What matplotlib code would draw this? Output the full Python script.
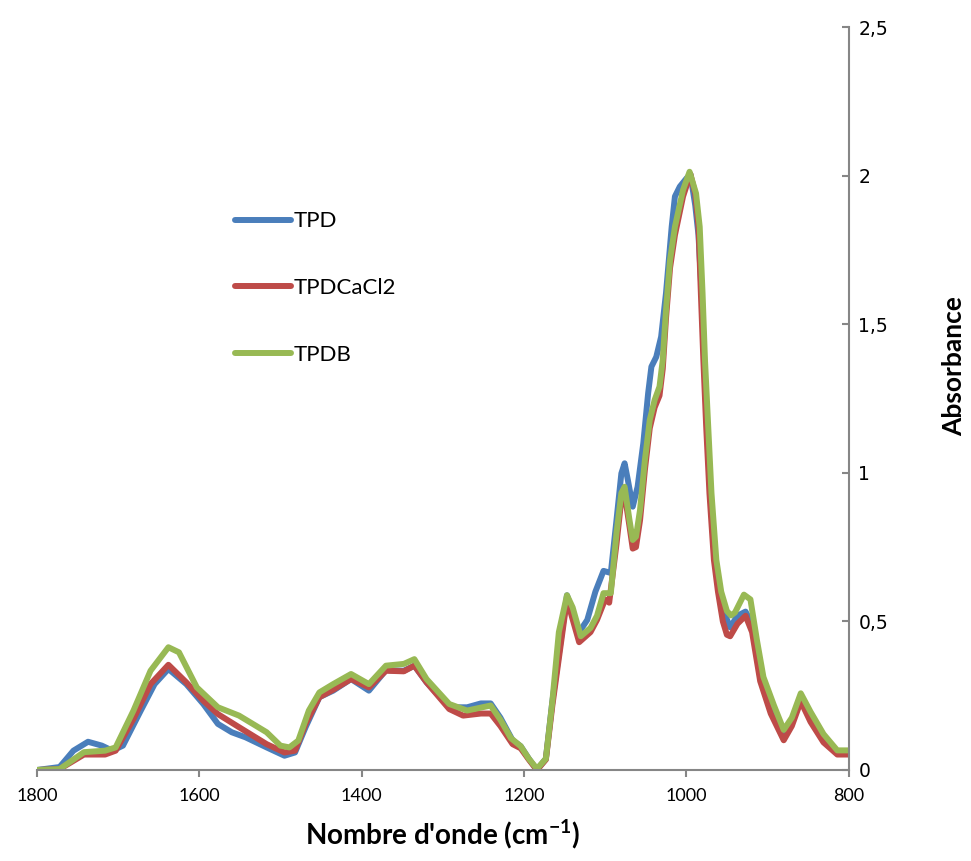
import matplotlib
matplotlib.use("Agg")
import matplotlib.pyplot as plt
from matplotlib.ticker import FuncFormatter

# wavenumber (cm-1) / absorbance
tpd_x = [1800, 1772, 1755, 1737, 1720, 1707, 1694, 1672, 1655, 1638, 1616, 1595, 1577, 1560,
         1543, 1517, 1495, 1482, 1469, 1452, 1435, 1413, 1391, 1370, 1348, 1335, 1320, 1292,
         1270, 1253, 1241, 1229, 1214, 1204, 1194, 1184, 1173, 1165, 1147, 1132, 1122, 1112,
         1102, 1093, 1086, 1080, 1076, 1072, 1066, 1060, 1053, 1047, 1043, 1037, 1031, 1025,
         1018, 1014, 1008, 1000, 995, 989, 985, 981, 978, 974.5, 970.5, 965, 959, 952, 946,
         937, 927, 919, 909, 896, 880, 870, 859, 847, 831, 814, 800]
tpd_y = [0, 0.01, 0.065, 0.095, 0.082, 0.065, 0.082, 0.2, 0.289, 0.34, 0.289, 0.222, 0.155, 0.127,
         0.11, 0.076, 0.048, 0.059, 0.144, 0.245, 0.267, 0.306, 0.267, 0.336, 0.334, 0.351, 0.295, 0.211,
         0.211, 0.224, 0.224, 0.176, 0.1, 0.08, 0.038, 0, 0.038, 0.231, 0.588, 0.464, 0.505, 0.6,
         0.67, 0.663, 0.841, 0.998, 1.032, 0.976, 0.886, 0.953, 1.099, 1.268, 1.357, 1.39, 1.458, 1.605,
         1.828, 1.93, 1.963, 1.99, 2.005, 1.9, 1.8, 1.6, 1.38, 1.155, 0.932, 0.707, 0.6, 0.52, 0.48,
         0.519, 0.533, 0.492, 0.341, 0.217, 0.121, 0.162, 0.245, 0.183, 0.107, 0.059, 0.059]

cacl2_x = [1800, 1772, 1742, 1716, 1703, 1681, 1660, 1638, 1616, 1595, 1577, 1551, 1517, 1495,
           1482, 1469, 1452, 1435, 1413, 1391, 1370, 1348, 1335, 1320, 1292, 1275, 1253, 1241, 1229,
           1214, 1204, 1194, 1184, 1173, 1165, 1147, 1132, 1118, 1110, 1100, 1095, 1086, 1080,
           1076, 1070, 1066, 1062, 1057, 1051, 1045, 1039, 1033, 1029, 1025, 1020, 1014, 1004,
           995, 989, 985, 982, 979, 975.5, 971.5, 966, 961, 955, 950, 946, 937, 927, 919, 909,
           896, 880, 870, 859, 847, 831, 814, 800]
cacl2_y = [0, 0.003, 0.052, 0.052, 0.065, 0.172, 0.289, 0.354, 0.295, 0.233, 0.188, 0.144, 0.087, 0.059,
           0.065, 0.155, 0.245, 0.27, 0.306, 0.278, 0.334, 0.332, 0.351, 0.295, 0.205, 0.183, 0.19, 0.19, 0.148,
           0.087, 0.073, 0.035, 0, 0.035, 0.217, 0.574, 0.43, 0.464, 0.505, 0.574, 0.563, 0.76, 0.91,
           0.93, 0.82, 0.745, 0.75, 0.84, 1.01, 1.15, 1.22, 1.26, 1.35, 1.52, 1.69, 1.8, 1.93,
           2.005, 1.94, 1.83, 1.6, 1.38, 1.155, 0.932, 0.707, 0.6, 0.5, 0.455, 0.45, 0.492, 0.519, 0.464, 0.299,
           0.19, 0.1, 0.148, 0.231, 0.162, 0.093, 0.052, 0.052]

tpdb_x = [1800, 1772, 1742, 1716, 1703, 1681, 1660, 1638, 1625, 1603, 1577, 1551, 1517, 1500,
          1489, 1478, 1465, 1452, 1435, 1413, 1391, 1370, 1348, 1335, 1320, 1307, 1292, 1270, 1253,
          1241, 1229, 1216, 1204, 1194, 1184, 1173, 1165, 1157, 1147, 1140, 1130, 1118, 1110, 1102,
          1093, 1086, 1080, 1076, 1070, 1066, 1062, 1057, 1051, 1045, 1039, 1033, 1029, 1025,
          1020, 1014, 1004, 996, 988, 983.5, 980, 977, 973, 969, 963, 957, 950, 945, 940,
          929, 921, 913, 905, 892, 880, 870, 859, 847, 831, 814, 800]
tpdb_y = [0, 0.003, 0.06, 0.065, 0.076, 0.2, 0.334, 0.413, 0.396, 0.278, 0.211, 0.183, 0.127, 0.082,
          0.076, 0.099, 0.2, 0.261, 0.289, 0.323, 0.289, 0.351, 0.357, 0.373, 0.306, 0.267, 0.222, 0.2, 0.21,
          0.217, 0.169, 0.107, 0.08, 0.038, 0.004, 0.038, 0.231, 0.464, 0.588, 0.547, 0.45, 0.478, 0.519, 0.595,
          0.595, 0.797, 0.932, 0.953, 0.841, 0.774, 0.785, 0.875, 1.043, 1.178, 1.245, 1.29, 1.38, 1.548,
          1.716, 1.828, 1.952, 2.013, 1.94, 1.828, 1.605, 1.38, 1.155, 0.932, 0.707, 0.6, 0.535, 0.52, 0.53,
          0.59, 0.574, 0.437, 0.313, 0.217, 0.135, 0.176, 0.258, 0.196, 0.121, 0.066, 0.066]

x_ticks = [1800, 1600, 1400, 1200, 1000, 800]
y_ticks = [0, 0.5, 1, 1.5, 2, 2.5]

plt.rcParams['font.family'] = ['Lato', 'DejaVu Sans']
plt.rcParams['mathtext.default'] = 'regular'

fig = plt.figure(figsize=(9.71, 8.61), dpi=100)
ax = fig.add_axes([0.038, 0.1057, 0.836, 0.8629])

lw = 4.3
ax.plot(tpd_x, tpd_y, color="#4A7EBB", lw=lw, label="TPD", solid_joinstyle='round', solid_capstyle='round')
ax.plot(cacl2_x, cacl2_y, color="#BE4B48", lw=lw, label="TPDCaCl2", solid_joinstyle='round', solid_capstyle='round')
ax.plot(tpdb_x, tpdb_y, color="#98B954", lw=lw, label="TPDB", solid_joinstyle='round', solid_capstyle='round')

ax.set_xlim(1800, 800)
ax.set_ylim(0, 2.5)
ax.set_xticks(x_ticks)
ax.set_yticks(y_ticks)
ax.yaxis.set_major_formatter(FuncFormatter(lambda v, p: ("%g" % v).replace(".", ",")))

for s in ["left", "top"]:
    ax.spines[s].set_visible(False)
for s in ["bottom", "right"]:
    ax.spines[s].set_color("#868686")
    ax.spines[s].set_linewidth(1.5)

ax.yaxis.tick_right()
ax.yaxis.set_label_position("right")
ax.tick_params(axis="x", direction="out", length=5, width=1.5, color="#868686", pad=8, labelsize=13)
ax.tick_params(axis="y", direction="in", length=5, width=1.5, color="#868686", pad=7,
               labelsize=13.5, labelfontfamily="DejaVu Sans")

ax.set_xlabel("Nombre d'onde (cm$^{-1}$)", fontsize=20, fontweight="bold", labelpad=10)
ax.set_ylabel("Absorbance", fontsize=19, fontweight="bold")
ax.yaxis.label.set_verticalalignment("center")
ax.yaxis.label.set_horizontalalignment("center")
ax.yaxis.set_label_coords(1.13, 0.544)

ax.legend(loc="center left", bbox_to_anchor=(0.242, 0.6655), bbox_transform=fig.transFigure,
          frameon=False, fontsize=16, handlelength=2.5, handletextpad=0.15, labelspacing=2.1,
          borderpad=0, borderaxespad=0)

fig.savefig("out.png", dpi=100)
